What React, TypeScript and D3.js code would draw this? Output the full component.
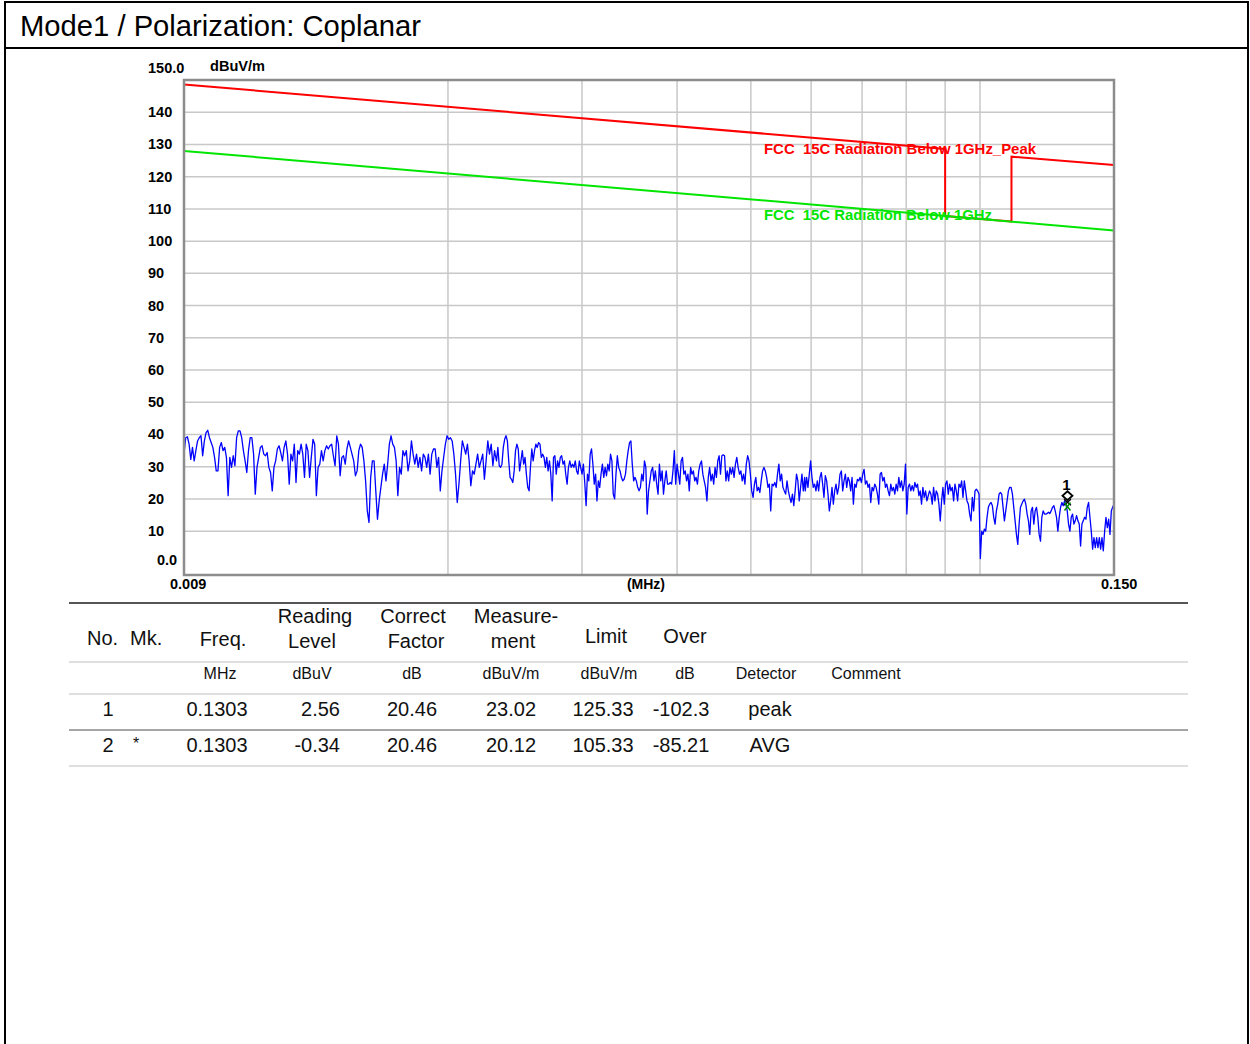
import React from 'react';
import * as d3 from 'd3';

// trace levels (dBuV/m) in three frequency bands
const bandLow = [0.009, 0.02303];
const levelsLow = [
  33.9, 39, 39.3, 37, 32.3, 36, 31.8, 35, 38, 39, 39.6, 33.4, 38, 40.6, 41.3, 39, 37.5, 36, 32.9, 28.7,
  28.7, 36, 37.5, 35, 36, 32.9, 21, 32.9, 29.8, 33.4, 30.3, 39, 41.1, 41.1, 39, 35, 31.8, 28.2, 35, 39,
  39, 33.9, 21.5, 29.8, 32.9, 36, 36.5, 33.9, 33.4, 34.4, 29.8, 28.2, 22.5, 29.8, 31.8, 35.5, 36.5, 34.4, 31.8, 36,
  38, 33.9, 24.6, 33.9, 31.8, 37, 25.1, 35, 33.9, 37, 33.9, 26.7, 37, 35, 26.7, 32.9, 38.5, 37, 21, 29.8,
  30.8, 35, 31.8, 35, 36.5, 35.5, 36.5, 37, 33.4, 30.3, 39.6, 37, 27.2, 32.9, 33.4, 30.8, 35.5, 38, 36, 33.9,
  31.8, 27.2, 28.7, 35, 37, 36, 31.8, 25.6, 16.3, 12.7, 26.7, 31.8, 31.8, 22.5, 13.7, 19.4, 23.6, 27.7, 30.8, 25.6,
  30.8, 37, 39.6, 37, 36, 31.8, 21, 29.8, 27.7, 35, 33.4, 35, 28.7, 31.8, 38, 33.9, 30.8, 33.9, 29.8, 32.9,
  28.7, 33.9, 32.9, 29.8, 33.9, 27.7, 33.9, 35.5, 35.5, 29.8, 32.9, 22.5, 28.7, 32.9, 37, 39.6, 38.5, 39, 38, 33.9,
  27.7, 18.9, 24.6, 31.8, 38, 36, 33.9, 37, 31.8, 24.1, 28.7, 27.7, 30.8, 33.9, 29.8, 31.8, 33.9, 26.1, 31.8, 38,
  33.9, 37, 30.3, 35,
];

const bandMid = [0.02307, 0.05884];
const levelsMid = [
  33.9, 31.8, 36, 30.3, 29.8, 30.8, 36, 38.5, 39.6, 38, 31.8, 26.7, 26.1, 25.1, 28.7, 35, 37, 35.5, 28.7, 31.8,
  35, 30.8, 32.9, 27.7, 23.6, 22.5, 29.8, 35.5, 31.8, 35, 37, 36, 37.5, 37, 32.9, 33.9, 32.9, 29.8, 32.9, 28.7,
  31.8, 27.7, 19.4, 32.9, 33.4, 27.7, 31.8, 29.8, 32.9, 33.4, 30.8, 31.8, 27.7, 24.6, 29.8, 31.8, 29.8, 30.8, 29.8, 31.8,
  28.7, 27.7, 31.8, 29.8, 27.7, 30.8, 25.1, 17.9, 27.7, 25.6, 33.9, 35.5, 30.8, 24.6, 27.7, 19.4, 25.6, 23.6, 27.7, 30.8,
  26.7, 29.8, 27.2, 30.8, 28.7, 33.9, 31.8, 21.5, 20, 27.7, 33.4, 29.8, 28.7, 26.7, 25.6, 26.1, 27.7, 31.8, 35, 37.5,
  38, 30.8, 25.6, 26.7, 25.6, 23.6, 22.5, 23.6, 27.7, 25.6, 31.8, 29.8, 15.3, 22.5, 25.6, 28.7, 29.8, 25.6, 28.7, 24.6,
  21.5, 30.8, 25.6, 28.7, 21.5, 25.6, 28.7, 24.6, 24.6, 25.1, 24.6, 28.7, 35, 24.6, 30.8, 27.7, 24.6, 31.8, 32.9, 27.7,
  28.7, 25.6, 27.7, 22.5, 29.8, 27.7, 28.7, 25.6, 26.7, 24.6, 28.7, 30.8, 31.8, 27.7, 25.6, 23.6, 19.4, 26.7, 29.8, 25.6,
  27.7, 24.6, 29.8, 26.7, 31.8, 33.4, 27.7, 33.4, 33.7, 33.4, 25.6, 28.7, 25.6, 29.8, 27.7, 29.8, 26.7, 30.8, 32.9, 29.8,
  27.7, 28.7, 25.6, 27.7, 24.6, 30.8, 33.4, 31.8, 27.7, 22.5, 20.5, 24.6, 26.7, 22.5, 23.6, 22, 25.6, 28.7, 29.8, 28.7,
  26.7, 23.6, 24.6, 16.3, 24.6, 24.1, 25.1, 23.6, 27.7, 30.8, 25.6, 27.7, 23.6, 22.5, 21.5, 25.6, 22.5, 20.5, 18.9, 21.5,
  17.9, 22.5, 27.7, 25.6, 19.4, 23.6, 27.7, 22.5, 26.7,
];

const bandHigh = [0.05895, 0.15];
const levelsHigh = [
  22.5, 26.7, 23.6, 27.7, 31.8, 26.7, 23.6, 24.6, 22.5, 25.6, 22.5, 26.7, 28.2, 24.6, 20.5, 27.2, 25.6, 21.5, 16.3, 19.4,
  23.6, 18.4, 22.5, 24.6, 21.5, 23.6, 27.7, 28.7, 22.5, 25.6, 27.7, 23.6, 26.7, 25.6, 22.5, 26.7, 18.4, 24.6, 23.6, 26.1,
  25.6, 26.7, 25.1, 27.7, 29.2, 24.6, 25.6, 23.6, 24.6, 18.9, 23.6, 22.5, 24.6, 23.6, 21.5, 18.4, 27.7, 28.2, 25.6, 26.7,
  23.6, 24.6, 22.5, 21, 24.6, 22.5, 23.6, 21.5, 24.6, 22.5, 26.7, 23.6, 25.6, 22.5, 24.6, 30.8, 15.3, 23.6, 24.6, 22.5,
  24.1, 22.5, 25.1, 23.6, 24.6, 21, 22.5, 18.4, 23.6, 20.5, 22.5, 19.4, 21, 22.5, 21.5, 18.4, 23.6, 19.4, 22.5, 21.5,
  18.4, 13.2, 19.4, 23.6, 18.4, 24.6, 25.6, 21.5, 24.6, 22.5, 23.6, 19.4, 24.6, 22.5, 19.4, 24.6, 23.6, 25.6, 20.5, 25.6,
  22.5, 19.4, 18.4, 15.3, 13.2, 20.5, 16.3, 22.5, 23, 22.5, 21.5, 1.5, 10, 9, 10.6, 10, 14.3, 17.4, 18.4, 18.9,
  17.9, 14.3, 12.2, 16.3, 18.4, 21.5, 22, 21.5, 17.4, 13.2, 16.3, 19.4, 22.5, 23.6, 23.6, 21.5, 17.4, 13.2, 9, 5.9,
  12.2, 17.4, 18.4, 19.4, 19.9, 18.4, 15.3, 13.2, 9, 16.3, 17.4, 12.2, 16.3, 17.4, 14.3, 9, 6.9, 14.3, 16.3, 15.3,
  15.3, 15.5, 15.9, 15.5, 16.3, 17.4, 17.9, 16.3, 14.3, 10, 14.3, 17.4, 18.9, 17.9, 19.4, 18.4, 16.3, 12.2, 10, 14.3,
  15.3, 12.2, 13.2, 14.8, 13.2, 12.2, 5.4, 12.2, 13.2, 14.3, 13.7, 17.4, 18.9, 14.3, 10, 4.4, 8, 4.9, 8, 4.9,
  8, 4.4, 8, 3.9, 10, 14.3, 11.1, 13.7, 9, 16.3, 17.4, 18.4,
];

// limit lines
const peakLimitFreq = [0.009, 0.09, 0.09, 0.11, 0.11, 0.15];
const peakLimitLevel = [148.6, 128.6, 107.8, 106.1, 126.2, 123.6];
const avgLimitFreq = [0.009, 0.15];
const avgLimitLevel = [128, 103.3];

const yTicks = [10, 20, 30, 40, 50, 60, 70, 80, 90, 100, 110, 120, 130, 140];
const xGrid = [0.02, 0.03, 0.04, 0.05, 0.06, 0.07, 0.08, 0.09, 0.1];

// markers
const markerFreq = 0.1303;
const markerPeak = 23.02;
const markerAvg = 20.12;

// result table
const colNo = ['1', '2'];
const colMk = ['', '*'];
const colFreq = ['0.1303', '0.1303'];
const colReading = ['2.56', '-0.34'];
const colCorrect = ['20.46', '20.46'];
const colMeasure = ['23.02', '20.12'];
const colLimit = ['125.33', '105.33'];
const colOver = ['-102.3', '-85.21'];
const colDetector = ['peak', 'AVG'];

const sweep = (band: number[], levels: number[]) =>
  levels.map((v, i) => ({
    f: band[0] * Math.pow(band[1] / band[0], i / (levels.length - 1)),
    v,
  }));

const App: React.FC = () => {
  const x = d3.scaleLog().domain([0.009, 0.15]).range([184, 1114]);
  const y = d3.scaleLinear().domain([-3.6, 150]).range([575, 80]);

  const trace = [
    ...sweep(bandLow, levelsLow),
    ...sweep(bandMid, levelsMid),
    ...sweep(bandHigh, levelsHigh),
  ];
  const line = d3
    .line<{ f: number; v: number }>()
    .x((d) => x(d.f))
    .y((d) => y(d.v));
  const peakLine = peakLimitFreq.map((f, i) => ({ f, v: peakLimitLevel[i] }));
  const avgLine = avgLimitFreq.map((f, i) => ({ f, v: avgLimitLevel[i] }));

  const chartFont = '"Liberation Sans", Arial, sans-serif';
  const mx = x(markerFreq);
  const my = y(markerPeak);
  const ma = y(markerAvg);

  const rowY = [716, 752];

  return (
    <div style={{ position: 'absolute', left: 0, top: 0 }}>
      <svg width={1250} height={1044} style={{ display: 'block', background: '#fff' }}>
        {/* page frame */}
        <rect x={5} y={2} width={1243} height={1050} fill="none" stroke="#000" strokeWidth={2} />
        <line x1={5} x2={1248} y1={48} y2={48} stroke="#000" strokeWidth={2} />
        <text x={20} y={36} fontFamily={chartFont} fontSize={29} fill="#000" textLength={401} lengthAdjust="spacingAndGlyphs">
          Mode1 / Polarization: Coplanar
        </text>

        {/* grid */}
        {yTicks.map((t) => (
          <line key={'h' + t} x1={184} x2={1114} y1={y(t)} y2={y(t)} stroke="#c8c8c8" strokeWidth={1.5} />
        ))}
        {xGrid.map((f) => (
          <line key={'v' + f} x1={x(f)} x2={x(f)} y1={80} y2={575} stroke="#c8c8c8" strokeWidth={1.5} />
        ))}

        {/* limit lines */}
        <path d={line(peakLine) || ''} fill="none" stroke="#ff0000" strokeWidth={2} />
        <path d={line(avgLine) || ''} fill="none" stroke="#00e600" strokeWidth={2} />
        <text x={764} y={154} xmlSpace="preserve" fontFamily={chartFont} fontWeight="bold" fontSize={14} fill="#ff0000" textLength={272} lengthAdjust="spacingAndGlyphs">
          {'FCC  15C Radiation Below 1GHz_Peak'}
        </text>
        <text x={764} y={220} xmlSpace="preserve" fontFamily={chartFont} fontWeight="bold" fontSize={14} fill="#00e600" textLength={228} lengthAdjust="spacingAndGlyphs">
          {'FCC  15C Radiation Below 1GHz'}
        </text>

        {/* trace */}
        <path d={line(trace) || ''} fill="none" stroke="#0000ff" strokeWidth={1.3} strokeLinejoin="round" />

        {/* markers */}
        <text x={mx - 1} y={my + 1} textAnchor="middle" fontFamily={chartFont} fontWeight="bold" fontSize={15} fill="#000">1</text>
        <path
          d={`M${mx},${my + 2} L${mx + 5},${my + 6.5} L${mx},${my + 11} L${mx - 5},${my + 6.5} Z`}
          fill="none"
          stroke="#000"
          strokeWidth={1.8}
        />
        <path d={`M${mx - 3.5},${my + 10} L${mx + 3.5},${my + 16} M${mx + 3.5},${my + 10} L${mx - 3.5},${my + 16}`} stroke="#000" strokeWidth={1.4} />
        <path d={`M${mx - 3},${ma + 4} L${mx + 3},${ma + 12} M${mx + 3},${ma + 4} L${mx - 3},${ma + 12}`} stroke="#008800" strokeWidth={1.5} />

        {/* plot frame */}
        <rect x={184} y={80} width={930} height={495} fill="none" stroke="#8c8c8c" strokeWidth={2.5} />

        {/* axis labels */}
        {yTicks.map((t) => (
          <text key={'yl' + t} x={148} y={y(t) + 5} fontFamily={chartFont} fontWeight="bold" fontSize={14.5} fill="#000">
            {t}
          </text>
        ))}
        <text x={157} y={y(0) + 2} fontFamily={chartFont} fontWeight="bold" fontSize={14.5} fill="#000">0.0</text>
        <text x={148} y={73} fontFamily={chartFont} fontWeight="bold" fontSize={14.5} fill="#000">150.0</text>
        <text x={210} y={71} fontFamily={chartFont} fontWeight="bold" fontSize={14} fill="#000" textLength={55} lengthAdjust="spacingAndGlyphs">dBuV/m</text>
        <text x={x(0.009) - 14} y={589} fontFamily={chartFont} fontWeight="bold" fontSize={14.5} fill="#000">0.009</text>
        <text x={646} y={589} textAnchor="middle" fontFamily={chartFont} fontWeight="bold" fontSize={14} fill="#000">(MHz)</text>
        <text x={x(0.15) - 13} y={589} fontFamily={chartFont} fontWeight="bold" fontSize={14.5} fill="#000">0.150</text>

        {/* table */}
        <g fontFamily={chartFont} fill="#111">
          <line x1={69} x2={1188} y1={603} y2={603} stroke="#555" strokeWidth={2} />
          <line x1={69} x2={1188} y1={662} y2={662} stroke="#c0c0c0" strokeWidth={1.2} />
          <line x1={69} x2={1188} y1={694} y2={694} stroke="#c0c0c0" strokeWidth={1.2} />
          <line x1={69} x2={1188} y1={730} y2={730} stroke="#888" strokeWidth={1.5} />
          <line x1={69} x2={1188} y1={766} y2={766} stroke="#c0c0c0" strokeWidth={1.2} />

          <g fontSize={20}>
            <text x={87} y={645}>No.</text>
            <text x={130} y={645}>Mk.</text>
            <text x={223} y={646} textAnchor="middle">Freq.</text>
            <text x={315} y={623} textAnchor="middle">Reading</text>
            <text x={312} y={648} textAnchor="middle">Level</text>
            <text x={413} y={623} textAnchor="middle">Correct</text>
            <text x={416} y={648} textAnchor="middle">Factor</text>
            <text x={516} y={623} textAnchor="middle">Measure-</text>
            <text x={513} y={648} textAnchor="middle">ment</text>
            <text x={606} y={643} textAnchor="middle">Limit</text>
            <text x={685} y={643} textAnchor="middle">Over</text>
          </g>
          <g fontSize={16} textAnchor="middle">
            <text x={220} y={679}>MHz</text>
            <text x={312} y={679}>dBuV</text>
            <text x={412} y={679}>dB</text>
            <text x={511} y={679}>dBuV/m</text>
            <text x={609} y={679}>dBuV/m</text>
            <text x={685} y={679}>dB</text>
            <text x={766} y={679}>Detector</text>
            <text x={866} y={679}>Comment</text>
          </g>
          <g fontSize={20}>
            {colNo.map((n, i) => (
              <g key={'r' + i}>
                <text x={108} y={rowY[i]} textAnchor="middle">{n}</text>
                <text x={136} y={rowY[i] - 3} textAnchor="middle" fontSize={16}>{colMk[i]}</text>
                <text x={217} y={rowY[i]} textAnchor="middle">{colFreq[i]}</text>
                <text x={340} y={rowY[i]} textAnchor="end">{colReading[i]}</text>
                <text x={412} y={rowY[i]} textAnchor="middle">{colCorrect[i]}</text>
                <text x={511} y={rowY[i]} textAnchor="middle">{colMeasure[i]}</text>
                <text x={603} y={rowY[i]} textAnchor="middle">{colLimit[i]}</text>
                <text x={681} y={rowY[i]} textAnchor="middle">{colOver[i]}</text>
                <text x={770} y={rowY[i]} textAnchor="middle">{colDetector[i]}</text>
              </g>
            ))}
          </g>
        </g>
      </svg>
    </div>
  );
};

export default App;
